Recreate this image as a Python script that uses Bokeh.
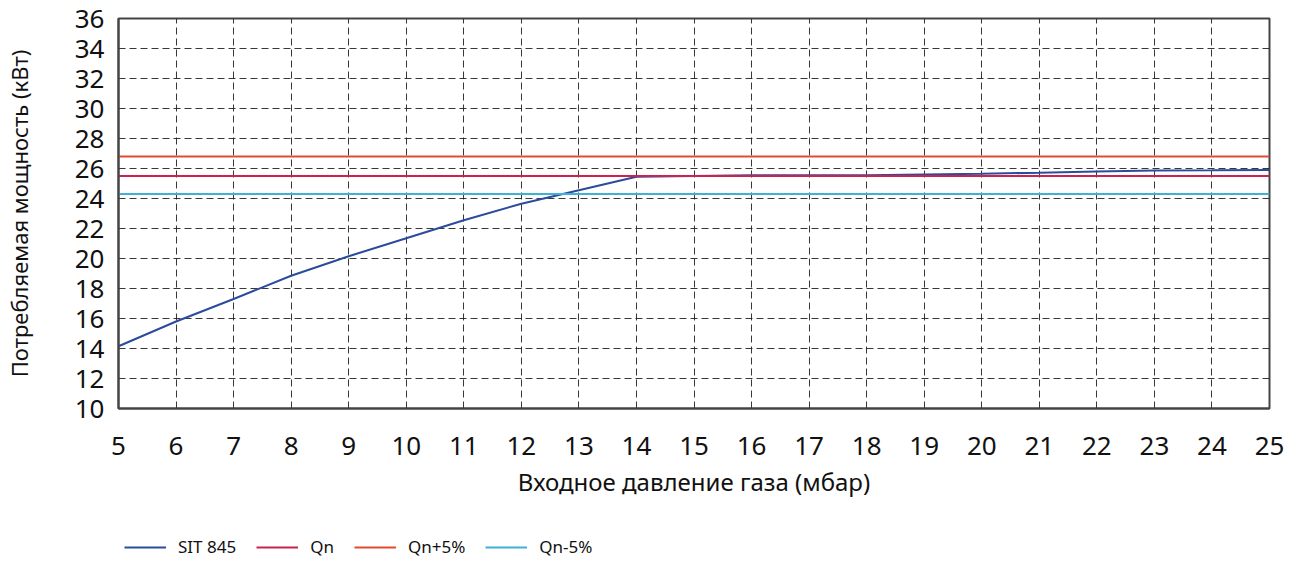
from bokeh.plotting import figure
from bokeh.models import Legend, LegendItem, FixedTicker, Range1d
from bokeh.layouts import column
from bokeh.embed import file_html
from bokeh.resources import INLINE

# --- data ---
pressure = [5, 6, 7, 8, 9, 10, 11, 12, 13, 14, 15, 16, 17, 18, 19, 20, 21, 22, 23, 24, 25]
sit845 = [14.15, 15.8, 17.3, 18.85, 20.15, 21.35, 22.55, 23.65, 24.55, 25.45, 25.5, 25.55,
          25.55, 25.55, 25.6, 25.65, 25.72, 25.8, 25.87, 25.88, 25.9]
qn = 25.5
qn_plus = 26.8
qn_minus = 24.3
x_ticks = list(range(5, 26))
y_ticks = list(range(10, 37, 2))
series_names = ["SIT 845", "Qn", "Qn+5%", "Qn-5%"]
colors = ["#2b4c9b", "#c9234f", "#e64a2e", "#3fb0d6"]

FONT = "Noto Sans"

x0, x1 = pressure[0], pressure[-1]
series_x = [pressure, [x0, x1], [x0, x1], [x0, x1]]
series_y = [sit845, [qn, qn], [qn_plus, qn_plus], [qn_minus, qn_minus]]

p = figure(width=1306, height=500, output_backend="svg", toolbar_location=None,
           x_range=Range1d(5, 25), y_range=Range1d(10, 36),
           min_border_left=116, min_border_right=37, min_border_top=18, min_border_bottom=88)

for xs, ys, c in zip(series_x, series_y, colors):
    p.line(xs, ys, line_color=c, line_width=2)

# axes
p.xaxis.ticker = FixedTicker(ticks=x_ticks)
p.yaxis.ticker = FixedTicker(ticks=y_ticks)
for ax in (p.xaxis[0], p.yaxis[0]):
    ax.major_label_text_font = FONT
    ax.major_label_text_font_size = "26px"
    ax.major_label_text_color = "#111111"
    ax.axis_label_text_font = FONT
    ax.axis_label_text_font_style = "normal"
    ax.axis_label_text_color = "#111111"
    ax.major_tick_out = 0
    ax.major_tick_in = 0
    ax.minor_tick_out = 0
    ax.minor_tick_in = 0
    ax.axis_line_color = "#444444"
    ax.axis_line_width = 2
p.xaxis.axis_label = "Входное давление газа (мбар)"
p.yaxis.axis_label = "Потребляемая мощность (кВт)"
p.xaxis.axis_label_text_font_size = "24px"
p.yaxis.axis_label_text_font_size = "22px"
p.xaxis.major_label_standoff = 28
p.xaxis.axis_label_standoff = 7
p.yaxis.major_label_standoff = 14
p.yaxis.axis_label_standoff = 38

# grid
p.xgrid.ticker = FixedTicker(ticks=x_ticks[1:-1])
p.ygrid.ticker = FixedTicker(ticks=y_ticks[1:-1])
for g in (p.xgrid[0], p.ygrid[0]):
    g.grid_line_color = "#222222"
    g.grid_line_dash = "7 4"
    g.grid_line_width = 1
    g.grid_line_alpha = 0.9

p.outline_line_color = "#444444"
p.outline_line_width = 2
p.background_fill_color = "white"
p.border_fill_color = "white"

# legend strip below the chart (its series lie outside this strip's view, only their legend glyphs show)
lg = figure(width=1306, height=64, output_backend="svg", toolbar_location=None,
            x_range=Range1d(5, 25), y_range=Range1d(0, 1),
            x_axis_type=None, y_axis_type=None,
            min_border_left=116, min_border_right=37, min_border_top=0, min_border_bottom=0)
lg.grid.visible = False
lg.outline_line_color = None
lg_renderers = [lg.line(xs, ys, line_color=c, line_width=2)
                for xs, ys, c in zip(series_x, series_y, colors)]

legend = Legend(items=[LegendItem(label=n, renderers=[r]) for n, r in zip(series_names, lg_renderers)],
                orientation="horizontal", location=(6, 6),
                glyph_width=42, glyph_height=16, label_standoff=12, spacing=20,
                padding=0, margin=0, border_line_color=None, background_fill_alpha=0,
                label_text_font=FONT, label_text_font_size="17px", label_text_color="#111111")
lg.add_layout(legend, "center")

open("out.html", "w").write(file_html(column(p, lg, spacing=0), INLINE))
